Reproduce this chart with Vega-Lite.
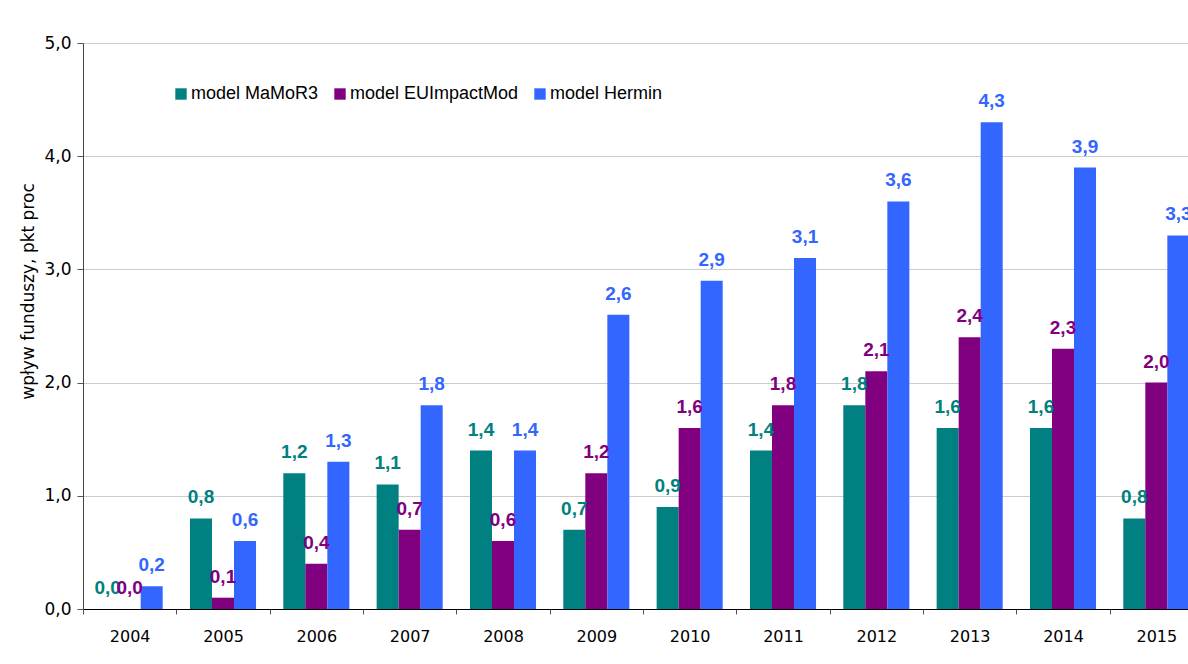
{
  "$schema": "https://vega.github.io/schema/vega-lite/v6.json",
  "width": 1105,
  "height": 566,
  "autosize": {"type": "none"},
  "padding": {"left": 83, "top": 43, "right": 0, "bottom": 55},
  "background": "white",
  "data": {
    "values": [
      {"year": "2004", "model": "model MaMoR3", "value": 0.0},
      {"year": "2004", "model": "model EUImpactMod", "value": 0.0},
      {"year": "2004", "model": "model Hermin", "value": 0.2},
      {"year": "2005", "model": "model MaMoR3", "value": 0.8},
      {"year": "2005", "model": "model EUImpactMod", "value": 0.1},
      {"year": "2005", "model": "model Hermin", "value": 0.6},
      {"year": "2006", "model": "model MaMoR3", "value": 1.2},
      {"year": "2006", "model": "model EUImpactMod", "value": 0.4},
      {"year": "2006", "model": "model Hermin", "value": 1.3},
      {"year": "2007", "model": "model MaMoR3", "value": 1.1},
      {"year": "2007", "model": "model EUImpactMod", "value": 0.7},
      {"year": "2007", "model": "model Hermin", "value": 1.8},
      {"year": "2008", "model": "model MaMoR3", "value": 1.4},
      {"year": "2008", "model": "model EUImpactMod", "value": 0.6},
      {"year": "2008", "model": "model Hermin", "value": 1.4},
      {"year": "2009", "model": "model MaMoR3", "value": 0.7},
      {"year": "2009", "model": "model EUImpactMod", "value": 1.2},
      {"year": "2009", "model": "model Hermin", "value": 2.6},
      {"year": "2010", "model": "model MaMoR3", "value": 0.9},
      {"year": "2010", "model": "model EUImpactMod", "value": 1.6},
      {"year": "2010", "model": "model Hermin", "value": 2.9},
      {"year": "2011", "model": "model MaMoR3", "value": 1.4},
      {"year": "2011", "model": "model EUImpactMod", "value": 1.8},
      {"year": "2011", "model": "model Hermin", "value": 3.1},
      {"year": "2012", "model": "model MaMoR3", "value": 1.8},
      {"year": "2012", "model": "model EUImpactMod", "value": 2.1},
      {"year": "2012", "model": "model Hermin", "value": 3.6},
      {"year": "2013", "model": "model MaMoR3", "value": 1.6},
      {"year": "2013", "model": "model EUImpactMod", "value": 2.4},
      {"year": "2013", "model": "model Hermin", "value": 4.3},
      {"year": "2014", "model": "model MaMoR3", "value": 1.6},
      {"year": "2014", "model": "model EUImpactMod", "value": 2.3},
      {"year": "2014", "model": "model Hermin", "value": 3.9},
      {"year": "2015", "model": "model MaMoR3", "value": 0.8},
      {"year": "2015", "model": "model EUImpactMod", "value": 2.0},
      {"year": "2015", "model": "model Hermin", "value": 3.3}
    ]
  },
  "encoding": {
    "x": {
      "field": "year",
      "type": "nominal",
      "scale": {"range": [0, 1120], "paddingInner": 0, "paddingOuter": 0},
      "axis": {
        "title": null,
        "labelAngle": 0,
        "tickBand": "extent",
        "domainColor": "#000000",
        "tickColor": "#555555",
        "tickSize": 5,
        "labelPadding": 14,
        "labelFont": "DejaVu Sans",
        "labelFontSize": 16,
        "labelColor": "#000000",
        "grid": false
      }
    },
    "xOffset": {
      "field": "model",
      "type": "nominal",
      "sort": ["model MaMoR3", "model EUImpactMod", "model Hermin"],
      "scale": {"paddingInner": 0, "paddingOuter": 0.62}
    },
    "y": {
      "field": "value",
      "type": "quantitative",
      "scale": {"domain": [0, 5], "nice": false},
      "axis": {
        "values": [0, 1, 2, 3, 4, 5],
        "format": ".1f",
        "title": "wpływ funduszy, pkt proc",
        "titleFont": "DejaVu Sans",
        "titleFontSize": 17,
        "titleFontWeight": "normal",
        "titleColor": "#000000",
        "titlePadding": 6,
        "titleY": 248,
        "labelFont": "DejaVu Sans",
        "labelFontSize": 17,
        "labelColor": "#000000",
        "labelPadding": 6,
        "tickSize": 6,
        "tickColor": "#555555",
        "domainColor": "#444444",
        "gridColor": "#cccccc"
      }
    },
    "color": {
      "field": "model",
      "type": "nominal",
      "scale": {
        "domain": ["model MaMoR3", "model EUImpactMod", "model Hermin"],
        "range": ["#008080", "#800080", "#3366FF"]
      },
      "legend": {
        "title": null,
        "orient": "none",
        "legendX": 89,
        "legendY": 42,
        "direction": "horizontal",
        "symbolType": "square",
        "symbolSize": 130,
        "symbolStrokeWidth": 0,
        "labelFont": "Liberation Sans",
        "labelFontSize": 18,
        "labelColor": "#000000",
        "labelLimit": 0,
        "labelOffset": 1,
        "columnPadding": 12
      }
    }
  },
  "layer": [
    {"mark": {"type": "bar", "clip": true}},
    {
      "mark": {
        "type": "text",
        "baseline": "alphabetic",
        "dy": -15,
        "font": "Liberation Sans",
        "fontSize": 19,
        "fontWeight": "bold"
      },
      "encoding": {
        "text": {"field": "value", "type": "quantitative", "format": ".1f"}
      }
    }
  ],
  "config": {
    "view": {"stroke": null},
    "locale": {
      "number": {
        "decimal": ",",
        "thousands": "\u00a0",
        "grouping": [3],
        "currency": ["", " zł"]
      }
    }
  }
}
